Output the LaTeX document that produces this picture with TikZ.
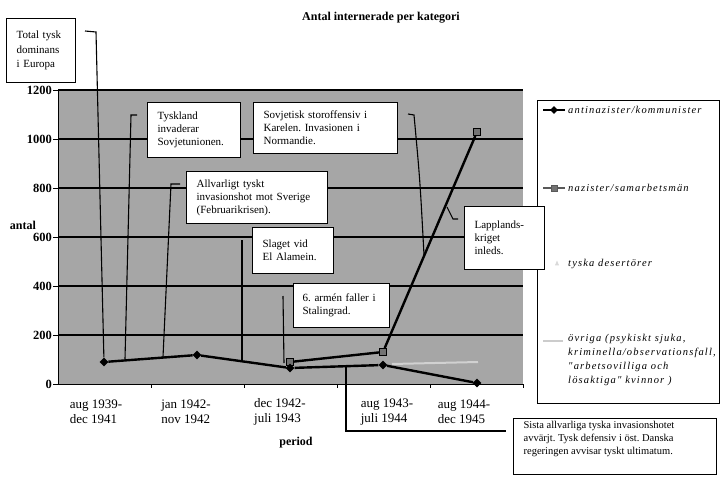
\documentclass[tikz,border=0pt]{standalone}
\usepackage{fontspec}
\setmainfont{Liberation Serif}
\newfontfamily\legfont[LetterSpace=11]{Liberation Serif}
\usetikzlibrary{shapes,positioning}
\frenchspacing
\tikzstyle{rt}=[draw=black,line width=1.2pt,fill=white,anchor=north west,align=left,inner xsep=10pt,inner ysep=3pt,font=\fontsize{11}{13}\selectfont]
\tikzstyle{gridline}=[line width=1.5pt]
\tikzstyle{callout}=[line width=1.1pt]
\tikzstyle{serie}=[line width=2.4pt]
\tikzstyle{dia}=[diamond,fill=black,inner sep=0pt,minimum size=9pt]
\tikzstyle{sq}=[rectangle,draw=black,line width=1pt,fill=black!55,inner sep=0pt,minimum size=7pt]
\tikzstyle{tal}=[anchor=east,inner sep=1pt,font=\fontsize{12.5}{14}\selectfont\bfseries]
\tikzstyle{per}=[align=left,font=\fontsize{13}{15}\selectfont]
\tikzstyle{leg}=[anchor=west,inner sep=0pt,font=\fontsize{10.5}{14}\legfont\itshape]

\begin{document}
\begin{tikzpicture}[x=1pt,y=-1pt]
		\useasboundingbox (0,0) rectangle (721,477);
		\fill[black!35] (58,90) rectangle (523,384);
		\foreach \v in {200,400,...,1200}
			\draw[gridline] (58,{384-.245*\v}) -- (523,{384-.245*\v});
		\foreach \v in {0,200,...,1200}{
			\draw[thick] (53,{384-.245*\v}) -- (58,{384-.245*\v});
			\node[tal] (y\v) at (53,{384-.245*\v}) {\v};
		}
		\draw[thick] (58,90) -- (58,384) -- (523,384);
		\foreach \x in {151,244,337,430,523}
			\draw[thick] (\x,384) -- (\x,388);
		\node[font=\fontsize{12}{14}\selectfont\bfseries] (titel) at (381,18) {Antal internerade per kategori};
		\node[font=\fontsize{12}{14}\selectfont\bfseries] (antal) at (23,225) {antal};
		\node[font=\fontsize{12}{14}\selectfont\bfseries] (period) at (296,443) {period};
		\node[per] (p1) at (96,412) {aug 1939-\\dec 1941};
		\node[per] (p2) at (186,412) {jan 1942-\\nov 1942};
		\node[per] (p3) at (280,412) {dec 1942-\\juli 1943};
		\node[per] (p4) at (387,412) {aug 1943-\\juli 1944};
		\node[per] (p5) at (464,412) {aug 1944-\\dec 1945};
		% textrutor
		\node[rt,text width=49pt,minimum height=64pt,font=\fontsize{11}{14.5}\selectfont] (dominans) at (6,18) {Total tysk\\dominans\\i Europa};
		\node[rt,text width=73pt,minimum height=55pt] (tyskland) at (147,102) {Tyskland\\invaderar\\Sovjetunionen.};
		\node[rt,text width=124pt,minimum height=51pt] (sovjet) at (253,102) {Sovjetisk storoffensiv i\\Karelen. Invasionen i\\Normandie.};
		\node[rt,text width=121pt,minimum height=52pt] (allvar) at (186,171) {Allvarligt tyskt\\invasionshot mot Sverige\\(Februarikrisen).};
		\node[rt,text width=61pt,minimum height=46pt] (slaget) at (252,227) {Slaget vid\\El Alamein.};
		\node[rt,inner xsep=9pt,text width=78pt,minimum height=44pt] (stalingrad) at (293,283) {6. armén faller i\\Stalingrad.};
		% serier
		\coordinate (o1) at (392,364);
		\coordinate (o2) at (478,362);
		\draw[line width=2pt,black!18] (o1) -- (o2);
		\node[sq] (n1) at (290,362) {};
		\node[sq] (n2) at (383,352) {};
		\node[sq] (n3) at (477,132) {};
		\draw[serie] (n1) -- (n2) -- (n3);
		\node[dia] (a1) at (104,362) {};
		\node[dia] (a2) at (197,355) {};
		\node[dia] (a3) at (290,368) {};
		\node[dia] (a4) at (383,365) {};
		\node[dia] (a5) at (477,383) {};
		\draw[serie] (a1) -- (a2) -- (a3) -- (a4) -- (a5);
		% pilar
		\coordinate (k1) at (85,31);
		\coordinate (k2) at (96,32);
		\draw[callout] (k1) -- (k2) -- (a1);
		\coordinate (t1) at (137,115);
		\coordinate (t2) at (131,115);
		\coordinate (t3) at (125,359);
		\draw[callout] (t1) -- (t2) -- (t3);
		\coordinate (f1) at (180,184);
		\coordinate (f2) at (171,184);
		\coordinate (f3) at (163,357);
		\draw[callout] (f1) -- (f2) -- (f3);
		\coordinate (e1) at (242,240);
		\coordinate (e2) at (242,360);
		\draw[callout] (e1) -- (e2);
		\coordinate (s1) at (283,296);
		\coordinate (s2) at (284,363);
		\draw[callout] (s1) -- (s2);
		\coordinate (v1) at (408,114);
		\coordinate (v2) at (414,115);
		\coordinate (v3) at (424,255);
		\draw[callout] (v1) -- (v2) .. controls (420,180) .. (v3);
		\coordinate (l1) at (447,207);
		\coordinate (l2) at (453,219);
		\coordinate (l3) at (458,219);
		\draw[callout] (l1) -- (l2) -- (l3);
		\coordinate (d1) at (346,366);
		\coordinate (d2) at (346,431);
		\coordinate (d3) at (506,431);
		\draw[callout] (d1) -- (d2) -- (d3);
		% legend
		\node[draw=black,line width=1.2pt,fill=white,anchor=north west,minimum width=182pt,minimum height=303pt,inner sep=0pt] (legend) at (537,100) {};
		\draw[line width=2.2pt] (543,110) -- (565,110);
		\node[dia,minimum size=8pt] (la) at (554,110) {};
		\node[leg] (lta) at (568,110) {antinazister/kommunister};
		\draw[line width=2pt,black!65] (543,188) -- (565,188);
		\node[sq,minimum size=6pt,draw=black!65] (ln) at (554,188) {};
		\node[leg] (ltn) at (568,188) {nazister/samarbetsmän};
		\node[isosceles triangle,shape border rotate=90,fill=black!15,inner sep=0pt,minimum size=4pt] (ld) at (557,264) {};
		\node[leg] (ltd) at (568,264) {tyska desertörer};
		\draw[line width=1.5pt,black!20] (543,341) -- (563,341);
		\node[leg,anchor=north west,align=left] (lto) at (568,334) {övriga (psykiskt sjuka,\\kriminella/observationsfall,\\"arbetsovilliga och\\lösaktiga" kvinnor )};
		\node[rt,text width=60pt,minimum height=63pt] (lappland) at (464,206) {Lapplands-\\kriget\\inleds.};
		\node[rt,font=\fontsize{10.5}{13}\selectfont] (sista) at (513,418) {\parbox[t][50pt][t]{183pt}{Sista allvarliga tyska invasionshotet\\avvärjt. Tysk defensiv i öst. Danska\\regeringen avvisar tyskt ultimatum.}};
	\end{tikzpicture}
\end{document}
